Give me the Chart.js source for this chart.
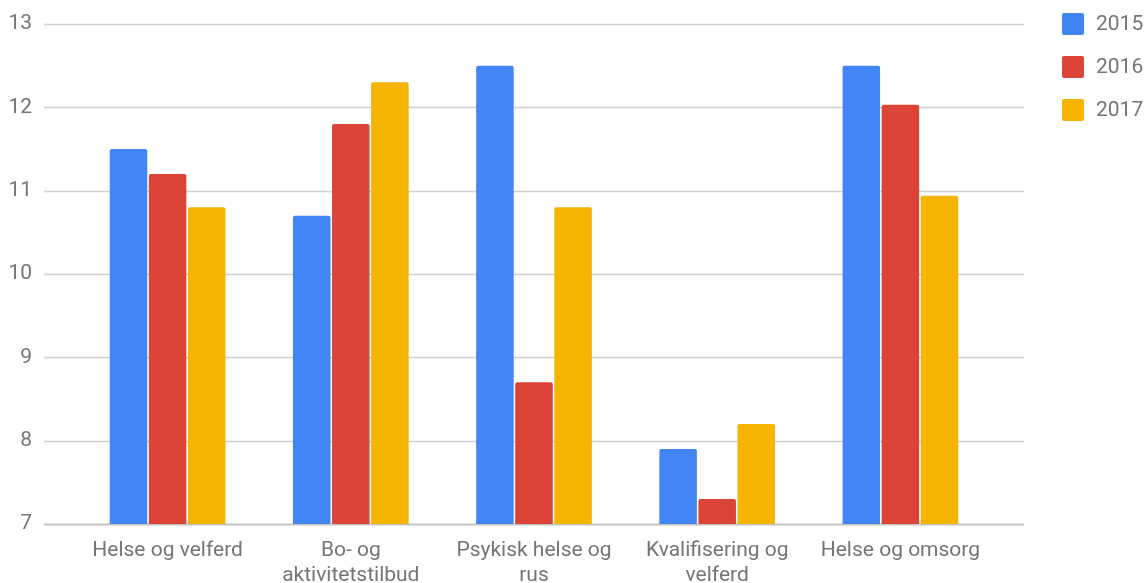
<!DOCTYPE html>
<html>
<head>
<meta charset="utf-8">
<script src="https://cdn.jsdelivr.net/npm/chart.js@4"></script>
<style>
  html, body { margin: 0; padding: 0; background: #fff; }
  #wrap { width: 1144px; height: 583px; }
</style>
</head>
<body>
<div id="wrap"><canvas id="myChart"></canvas></div>
<script>
var categories = ['Helse og velferd', ['Bo- og', 'aktivitetstilbud'], ['Psykisk helse og', 'rus'], ['Kvalifisering og', 'velferd'], 'Helse og omsorg'];
var years = ['2015', '2016', '2017'];
var values2015 = [11.5, 10.7, 12.5, 7.9, 12.5];
var values2016 = [11.2, 11.8, 8.7, 7.3, 12.03];
var values2017 = [10.8, 12.3, 10.8, 8.2, 10.94];
var yTicks = [7, 8, 9, 10, 11, 12, 13];

var colors = ['#4285F4', '#DB4437', '#F4B400'];
var textColor = '#757575';
var fontSize = 21;

Chart.defaults.font.family = 'Roboto, sans-serif';
Chart.defaults.color = textColor;

// gridlines run wider than the bar area, like the original
const wideGrid = {
    id: 'wideGrid',
    beforeDatasetsDraw: function (chart) {
        var c = chart.ctx, y = chart.scales.y;
        c.save();
        yTicks.forEach(function (v) {
            var py = Math.round(y.getPixelForValue(v)) + 0.5;
            c.strokeStyle = v === yTicks[0] ? '#c4c4c4' : '#d0d0d0';
            c.lineWidth = v === yTicks[0] ? 2 : 1.5;
            c.beginPath();
            c.moveTo(44, py);
            c.lineTo(1024, py);
            c.stroke();
        });
        c.restore();
    }
};

const sideLegend = {
    id: 'sideLegend',
    afterDraw: function (chart) {
        var c = chart.ctx;
        c.save();
        c.font = fontSize + 'px Roboto, sans-serif';
        c.textBaseline = 'middle';
        chart.data.datasets.forEach(function (ds, i) {
            var cy = 24 + i * 43;
            c.fillStyle = ds.backgroundColor;
            c.beginPath();
            c.roundRect(1062, cy - 11, 22, 22, 2);
            c.fill();
            c.fillStyle = textColor;
            c.fillText(ds.label, 1096, cy + 1);
        });
        c.restore();
    }
};

const ctx = document.getElementById('myChart').getContext('2d');
const myChart = new Chart(ctx, {
    type: 'bar',
    data: {
        labels: categories,
        datasets: [
            { label: years[0], data: values2015, backgroundColor: colors[0] },
            { label: years[1], data: values2016, backgroundColor: colors[1] },
            { label: years[2], data: values2017, backgroundColor: colors[2] }
        ]
    },
    plugins: [wideGrid, sideLegend],
    options: {
        responsive: true,
        maintainAspectRatio: false,
        animation: false,
        datasets: {
            bar: {
                categoryPercentage: 0.64,
                barPercentage: 0.96,
                borderRadius: { topLeft: 2, topRight: 2 },
                borderSkipped: 'bottom'
            }
        },
        layout: {
            padding: { top: 24, right: 152, left: 0, bottom: 0 }
        },
        plugins: {
            legend: { display: false },
            tooltip: { enabled: false }
        },
        scales: {
            x: {
                grid: { display: false },
                border: { display: false },
                afterFit: function (axis) {
                    axis.height = 59;
                    axis.paddingLeft = 0;
                    axis.paddingRight = 0;
                },
                ticks: {
                    font: { size: fontSize, lineHeight: 1.2 },
                    maxRotation: 0,
                    autoSkip: false,
                    padding: 6
                }
            },
            y: {
                min: yTicks[0],
                max: yTicks[yTicks.length - 1],
                afterBuildTicks: function (axis) {
                    axis.ticks = yTicks.map(function (v) { return { value: v }; });
                },
                afterFit: function (axis) {
                    axis.width = 76;
                    axis.paddingTop = 0;
                    axis.paddingBottom = 0;
                },
                grid: { display: false },
                border: { display: false },
                ticks: {
                    font: { size: fontSize },
                    padding: 36
                }
            }
        }
    }
});
</script>
</body>
</html>
